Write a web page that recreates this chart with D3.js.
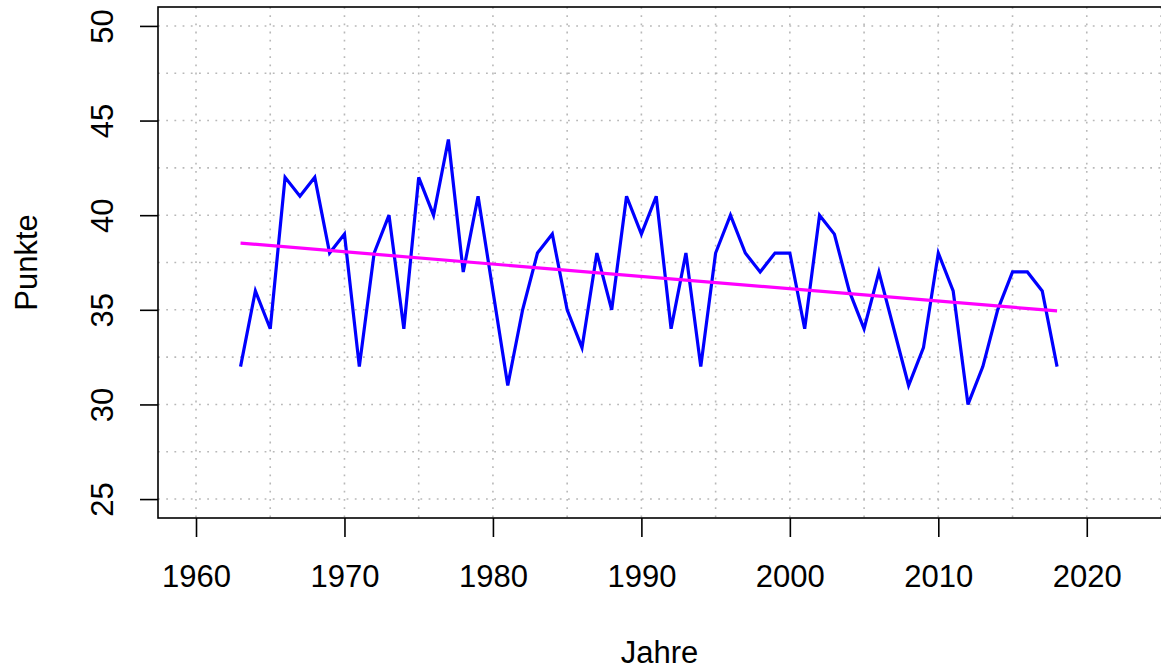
<html>
    <head>
        <title>Punkte pro Jahr</title>
        <script type="text/javascript" src="https://cdn.jsdelivr.net/npm/d3@7"></script>
        <style type="text/css">
            body { margin: 0; background: white; }
            #chartholder { width: 1161px; height: 670px; }
            text { font-family: "Liberation Sans", Arial, sans-serif; fill: black; }
        </style>
    </head>
    <body>
        <div id='chartholder'>
            <!-- d3 will put the chart here -->
        </div>

        <script type="text/javascript">

            // values
            var years = [1963, 1964, 1965, 1966, 1967, 1968, 1969, 1970, 1971, 1972,
                         1973, 1974, 1975, 1976, 1977, 1978, 1979, 1980, 1981, 1982,
                         1983, 1984, 1985, 1986, 1987, 1988, 1989, 1990, 1991, 1992,
                         1993, 1994, 1995, 1996, 1997, 1998, 1999, 2000, 2001, 2002,
                         2003, 2004, 2005, 2006, 2007, 2008, 2009, 2010, 2011, 2012,
                         2013, 2014, 2015, 2016, 2017, 2018];
            var punkte = [32, 36, 34, 42, 41, 42, 38, 39, 32, 38,
                          40, 34, 42, 40, 44, 37, 41, 36, 31, 35,
                          38, 39, 35, 33, 38, 35, 41, 39, 41, 34,
                          38, 32, 38, 40, 38, 37, 38, 38, 34, 40,
                          39, 36, 34, 37, 34, 31, 33, 38, 36, 30,
                          32, 35, 37, 37, 36, 32];

            var xTicks = [1960, 1970, 1980, 1990, 2000, 2010, 2020];
            var yTicks = [25, 30, 35, 40, 45, 50];
            var xGrid = [1960, 1965, 1970, 1975, 1980, 1985, 1990, 1995, 2000, 2005, 2010, 2015, 2020, 2025];
            var yGrid = [25, 27.5, 30, 32.5, 35, 37.5, 40, 42.5, 45, 47.5, 50];

            var xLabel = 'Jahre';
            var yLabel = 'Punkte';

            // least squares fit, like abline(lm(punkte ~ years))
            function linearFit(xs, ys) {
                var mx = d3.mean(xs), my = d3.mean(ys);
                var sxy = 0, sxx = 0;
                xs.forEach(function(x, i) {
                    sxy += (x - mx) * (ys[i] - my);
                    sxx += (x - mx) * (x - mx);
                });
                var b = sxy / sxx;
                return function(x) { return my + b * (x - mx); };
            }

            function makeChart() {
                var width = 1161, height = 670;
                var plot = {left: 158, right: 1161, top: 7, bottom: 518};

                var svg = d3.select('#chartholder')
                    .append('svg')
                        .attr('width', width)
                        .attr('height', height);

                var xScale = d3.scaleLinear()
                    .domain([1957.44, 2025])
                    .range([plot.left, plot.right]);

                var yScale = d3.scaleLinear()
                    .domain([24, 51])
                    .range([plot.bottom, plot.top]);

                // dotted grid
                var grid = svg.append('g')
                    .attr('stroke', '#b8b8b8')
                    .attr('stroke-width', 1.6)
                    .attr('stroke-dasharray', '1.8,6.4');

                grid.selectAll('line.v')
                    .data(xGrid)
                    .enter().append('line')
                        .attr('class', 'v')
                        .attr('x1', function(d) { return xScale(d); })
                        .attr('x2', function(d) { return xScale(d); })
                        .attr('y1', plot.top)
                        .attr('y2', plot.bottom);

                grid.selectAll('line.h')
                    .data(yGrid)
                    .enter().append('line')
                        .attr('class', 'h')
                        .attr('x1', plot.left)
                        .attr('x2', plot.right)
                        .attr('y1', function(d) { return yScale(d); })
                        .attr('y2', function(d) { return yScale(d); });

                // data line
                var line = d3.line()
                    .x(function(d) { return xScale(d[0]); })
                    .y(function(d) { return yScale(d[1]); });

                svg.append('path')
                    .datum(d3.zip(years, punkte))
                    .attr('fill', 'none')
                    .attr('stroke', '#0000ff')
                    .attr('stroke-width', 3.2)
                    .attr('stroke-linejoin', 'miter')
                    .attr('d', line);

                // trend line
                var fit = linearFit(years, punkte);
                var x0 = d3.min(years), x1 = d3.max(years);
                svg.append('path')
                    .datum([[x0, fit(x0)], [x1, fit(x1)]])
                    .attr('fill', 'none')
                    .attr('stroke', '#ff00ff')
                    .attr('stroke-width', 3.2)
                    .attr('d', line);

                // box
                svg.append('rect')
                    .attr('x', plot.left)
                    .attr('y', plot.top)
                    .attr('width', plot.right - plot.left + 10)
                    .attr('height', plot.bottom - plot.top)
                    .attr('fill', 'none')
                    .attr('stroke', 'black')
                    .attr('stroke-width', 1.6);

                function xAxis(g) {
                    return g.attr('transform', 'translate(0,' + plot.bottom + ')')
                        .call(d3.axisBottom(xScale).tickValues(xTicks).tickFormat(d3.format('d'))
                            .tickSize(19).tickPadding(30).tickSizeOuter(0));
                }

                function yAxis(g) {
                    return g.attr('transform', 'translate(' + plot.left + ',0)')
                        .call(d3.axisLeft(yScale).tickValues(yTicks).tickSize(18).tickSizeOuter(0));
                }

                var gx = svg.append('g').call(xAxis);
                var gy = svg.append('g').call(yAxis);

                [gx, gy].forEach(function(g) {
                    g.select('.domain').remove();
                    g.selectAll('.tick line').attr('stroke', 'black').attr('stroke-width', 1.6);
                    g.selectAll('.tick text')
                        .attr('fill', 'black')
                        .style('font-family', '"Liberation Sans", Arial, sans-serif')
                        .style('font-size', '31px');
                });

                gx.selectAll('.tick text')
                    .attr('y', 69)
                    .attr('dy', null);

                // y labels turned like R's las = 0
                gy.selectAll('.tick text')
                    .attr('x', null)
                    .attr('dy', null)
                    .attr('text-anchor', 'middle')
                    .attr('transform', 'translate(-45,0) rotate(-90)');

                svg.append('text')
                    .attr('x', (plot.left + plot.right) / 2)
                    .attr('y', 663)
                    .attr('text-anchor', 'middle')
                    .style('font-size', '31px')
                    .text(xLabel);

                svg.append('text')
                    .attr('transform', 'translate(37,' + ((plot.top + plot.bottom) / 2) + ') rotate(-90)')
                    .attr('text-anchor', 'middle')
                    .style('font-size', '31px')
                    .text(yLabel);
            }

            makeChart();

        </script>
    </body>
</html>
